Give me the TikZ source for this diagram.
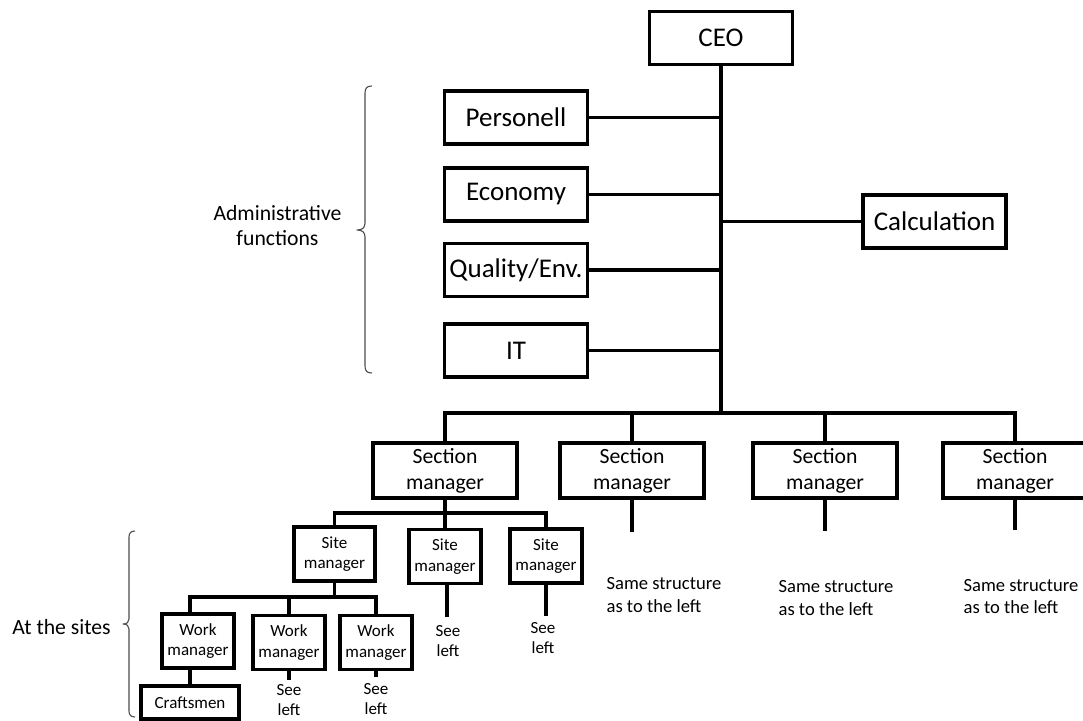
\documentclass[tikz,border=0pt]{standalone}
\usepackage{fontspec}
\setmainfont{Carlito}
\begin{document}
\begin{tikzpicture}[x=1pt,y=-1pt,
  line width=3.2pt,
  box/.style={draw=black, line width=3.2pt, inner sep=0pt, align=center, fill=white},
  topbox/.style={box, minimum width=143pt, minimum height=53pt, font=\fontsize{27}{32}\selectfont},
  secbox/.style={box, minimum width=144pt, minimum height=55pt, font=\fontsize{21.7}{26}\selectfont},
  smallbox/.style={box, minimum width=72pt, minimum height=54pt, font=\fontsize{17}{20.5}\selectfont},
  note/.style={inner sep=0pt, align=center, font=\fontsize{17}{20}\selectfont},
  same/.style={inner sep=0pt, align=left, anchor=west, font=\fontsize{18.6}{22.5}\selectfont},
  side/.style={inner sep=0pt, align=center, font=\fontsize{21.7}{25}\selectfont},
  brace/.style={line width=1.1pt, draw=black!70, line join=round}
]
\useasboundingbox (0,0) rectangle (1083,720);

% top management and staff functions
\node[topbox] (ceo)  at (721,38)     {CEO};
\node[topbox] (pers) at (516,117.5)  {Personell};
\node[topbox] (econ) at (516,194.5)  {Economy};
\node[topbox] (qual) at (516,270)    {Quality/Env.};
\node[topbox] (it)   at (516,350.5)  {IT};
\node[topbox] (calc) at (934.5,221.5){Calculation};

% section managers
\node[secbox] (sm1) at (445,470.5)  {Section\\manager};
\node[secbox] (sm2) at (632,470.5)  {Section\\manager};
\node[secbox] (sm3) at (825,470.5)  {Section\\manager};
\node[secbox] (sm4) at (1015,470.5) {Section\\manager};

% site level
\node[smallbox, minimum width=81pt] (site1) at (334.5,554) {Site\\manager};
\node[smallbox] (site2) at (445,556.5) {Site\\manager};
\node[smallbox] (site3) at (546,556)   {Site\\manager};

\node[smallbox] (wm1) at (198,641)   {Work\\manager};
\node[smallbox] (wm2) at (289,642.5) {Work\\manager};
\node[smallbox] (wm3) at (376,642.5) {Work\\manager};

\node[smallbox, minimum width=98pt, minimum height=33pt] (craft) at (190,702.5) {Craftsmen};

% trunk and staff branches
\coordinate (bus) at (721,413);
\draw (ceo.south) -- (bus);
\foreach \n in {pers,econ,qual,it} \draw (\n.east) -- (\n.east -| bus);
\draw (calc.west) -- (calc.west -| bus);

% bus to the section managers
\draw (sm1.north) -- (sm1.north |- bus) -- (sm4.north |- bus) -- (sm4.north);
\draw (sm2.north) -- (sm2.north |- bus);
\draw (sm3.north) -- (sm3.north |- bus);

% open ends below sections 2-4
\coordinate (s2end) at (632,532);
\coordinate (s3end) at (825,531);
\coordinate (s4end) at (1015,530);
\draw (sm2.south) -- (s2end);
\draw (sm3.south) -- (s3end);
\draw (sm4.south) -- (s4end);
\node[same] (same2) at (605,595)   {Same structure\\as to the left};
\node[same] (same3) at (777,598)   {Same structure\\as to the left};
\node[same] (same4) at (962,596.5) {Same structure\\as to the left};

% section 1 -> site managers
\coordinate (sbus) at (445,513);
\draw (sm1.south) -- (sbus);
\draw (site1.north) -- (site1.north |- sbus) -- (site3.north |- sbus) -- (site3.north);
\draw (site2.north) -- (sbus);

\coordinate (st2end) at (447,617);
\coordinate (st3end) at (546,616);
\draw (site2.south -| st2end) -- (st2end);
\draw (site3.south) -- (st3end);
\node[note] (see1) at (448,641.5) {See\\left};
\node[note] (see2) at (543,638)   {See\\left};

% site manager 1 -> work managers
\coordinate (wbus) at (334.5,597);
\draw (site1.south) -- (wbus);
\draw ([xshift=-8pt]wm1.north) -- ([xshift=-8pt]wm1.north |- wbus) -- (wm3.north |- wbus) -- (wm3.north);
\draw (wm2.north) -- (wm2.north |- wbus);

\draw (wm1.south -| craft.north) -- (craft.north);
\coordinate (w2end) at (289,680);
\coordinate (w3end) at (376,677);
\draw (wm2.south) -- (w2end);
\draw (wm3.south) -- (w3end);
\node[note] (see3) at (289,700.5) {See\\left};
\node[note] (see4) at (376,699.5) {See\\left};

% group braces and their labels
\draw[brace] (372,86) .. controls (367,86) and (365,88) .. (365,93) -- (365,223)
  .. controls (365,228) and (362,230) .. (357,230)
  .. controls (362,230) and (365,232) .. (365,237) -- (365,366)
  .. controls (365,371) and (367,373) .. (372,373);
\node[side] (admin) at (277.5,226) {Administrative\\functions};

\draw[brace] (135,531) .. controls (131,531) and (129,533) .. (129,537) -- (129,619)
  .. controls (129,622) and (127,624) .. (123,624)
  .. controls (127,624) and (129,626) .. (129,629) -- (129,711)
  .. controls (129,715) and (131,717) .. (135,717);
\node[side] (sites) at (61.5,627) {At the sites};
\end{tikzpicture}
\end{document}
